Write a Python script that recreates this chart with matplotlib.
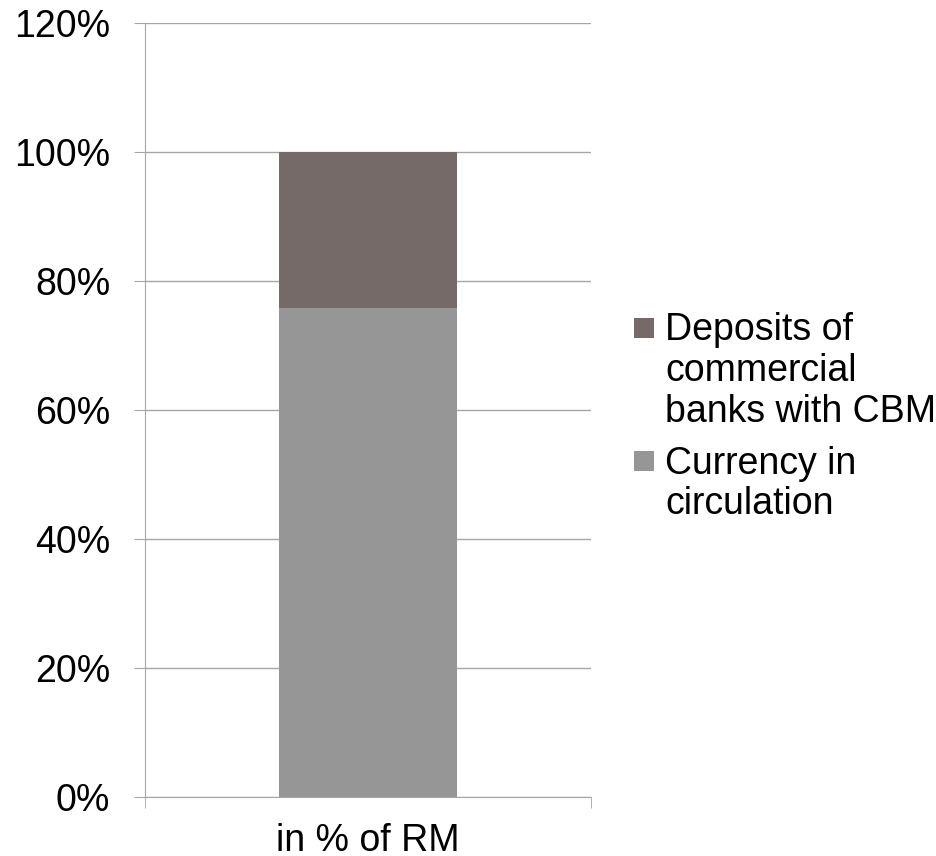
import matplotlib.pyplot as plt
from matplotlib.patches import Rectangle
from matplotlib.legend_handler import HandlerPatch
from matplotlib.ticker import PercentFormatter

plt.rcParams['font.family'] = ['Liberation Sans', 'DejaVu Sans']

categories = ['in % of RM']
currency = [75.8]
deposits = [24.2]
series_labels = ['Deposits of\ncommercial\nbanks with CBM', 'Currency in\ncirculation']

fig = plt.figure(figsize=(9.37, 8.56), dpi=100)
ax = fig.add_axes([145 / 937, 59 / 856, 446 / 937, 774 / 856])

x = list(range(len(categories)))
b1 = ax.bar(x, currency, width=0.4, color='#969696', zorder=3)
b2 = ax.bar(x, deposits, bottom=currency, width=0.4, color='#766A69', zorder=3)

ax.set_xlim(-0.5, 0.5)
ax.set_ylim(0, 120)
ax.set_yticks(range(0, 121, 20))
ax.yaxis.set_major_formatter(PercentFormatter(decimals=0))
ax.set_xticks(x)
ax.set_xticklabels(categories)
ax.grid(axis='y', color='#A6A6A6', linewidth=1, zorder=0)

for s in ['top', 'right']:
    ax.spines[s].set_visible(False)
for s in ['left', 'bottom']:
    ax.spines[s].set_color('#A6A6A6')
ax.tick_params(axis='y', length=8, color='#A6A6A6', labelsize=27, pad=17)
ax.tick_params(axis='x', length=0, labelsize=27, pad=19)
# tick marks at both ends of the category axis
ax.set_xticks([-0.5, 0.5], minor=True)
ax.tick_params(axis='x', which='minor', length=8, color='#A6A6A6')


def square_patch(legend, orig_handle, xdescent, ydescent, width, height, fontsize):
    # square sitting at the bottom of a taller handle box
    return Rectangle((-xdescent, -ydescent), width, width)


leg = fig.legend([b2[0], b1[0]], series_labels, loc='upper left',
                 bbox_to_anchor=(634 / 937, 1 - 312 / 856),
                 frameon=False, fontsize=27, handlelength=0.53, handleheight=0.67,
                 handletextpad=0.3, labelspacing=0.43, borderpad=0, borderaxespad=0,
                 handler_map={Rectangle: HandlerPatch(patch_func=square_patch)})
for t in leg.get_texts():
    t.set_linespacing(1.17)
# put each square next to the first line of its label
for item in leg._legend_handle_box.get_children()[0].get_children():
    item.align = 'top'

fig.savefig('out.png', dpi=100)
